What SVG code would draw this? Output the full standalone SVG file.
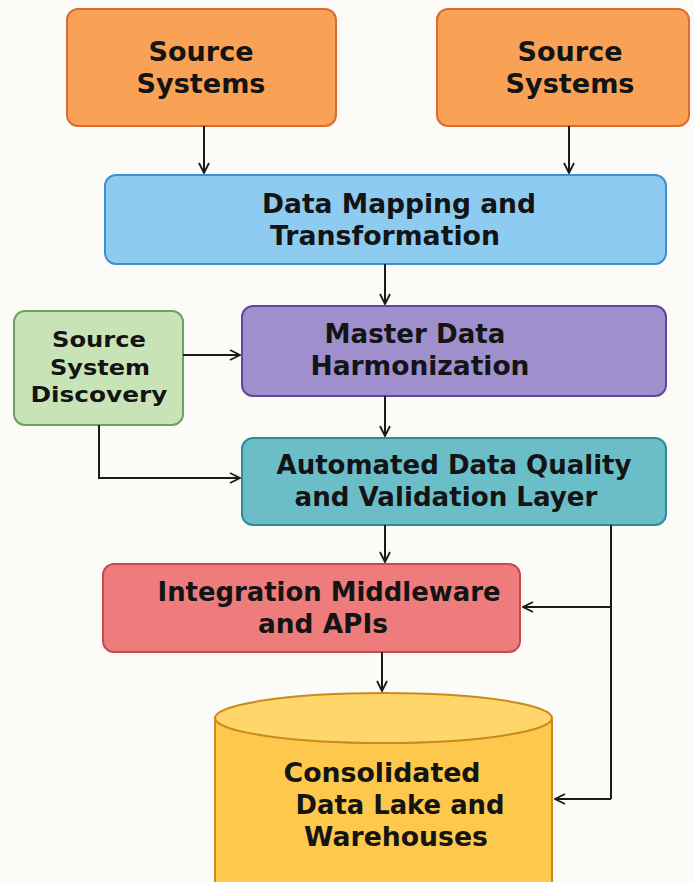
<svg xmlns="http://www.w3.org/2000/svg" width="694" height="882" viewBox="0 0 694 882">
  <defs>
    <marker id="arrow" viewBox="0 0 12 12" refX="11" refY="6" markerWidth="12" markerHeight="12" markerUnits="userSpaceOnUse" orient="auto">
      <path d="M1,1 L11,6 L1,11" fill="none" stroke="#1a1a1a" stroke-width="1.8"/>
    </marker>
  </defs>
  <style>
    .box { stroke-width: 2; }
    .label { font-family: "DejaVu Sans", "Liberation Sans", sans-serif; font-weight: bold; fill: #141414; text-anchor: middle; }
    .big { font-size: 26px; }
    .small { font-size: 22px; }
    .edge { fill: none; stroke: #1a1a1a; stroke-width: 2; marker-end: url(#arrow); }
    .line { fill: none; stroke: #1a1a1a; stroke-width: 2; }
  </style>
  <rect width="694" height="882" fill="#fcfbf8"/>

  <g id="source-systems-a">
    <rect class="box" x="67" y="9" width="269" height="117" rx="11" fill="#f9a256" stroke="#de6a33"/>
    <text class="label big" x="201" y="61" textLength="105" lengthAdjust="spacingAndGlyphs">Source</text>
    <text class="label big" x="201" y="93" textLength="129" lengthAdjust="spacingAndGlyphs">Systems</text>
  </g>

  <g id="source-systems-b">
    <rect class="box" x="437" y="9" width="252" height="117" rx="11" fill="#f9a256" stroke="#de6a33"/>
    <text class="label big" x="570" y="61" textLength="105" lengthAdjust="spacingAndGlyphs">Source</text>
    <text class="label big" x="570" y="93" textLength="129" lengthAdjust="spacingAndGlyphs">Systems</text>
  </g>

  <g id="data-mapping">
    <rect class="box" x="105" y="175" width="561" height="89" rx="11" fill="#8ecbf1" stroke="#3f8fd3"/>
    <text class="label big" x="399" y="213" textLength="274" lengthAdjust="spacingAndGlyphs">Data Mapping and</text>
    <text class="label big" x="385" y="245" textLength="230" lengthAdjust="spacingAndGlyphs">Transformation</text>
  </g>

  <g id="source-discovery">
    <rect class="box" x="14" y="311" width="169" height="114" rx="11" fill="#c8e4b6" stroke="#6aa35c"/>
    <text class="label small" x="99" y="347" textLength="94" lengthAdjust="spacingAndGlyphs">Source</text>
    <text class="label small" x="100" y="375" textLength="100" lengthAdjust="spacingAndGlyphs">System</text>
    <text class="label small" x="99" y="402" textLength="137" lengthAdjust="spacingAndGlyphs">Discovery</text>
  </g>

  <g id="master-data">
    <rect class="box" x="242" y="306" width="424" height="90" rx="11" fill="#a08fcd" stroke="#5b4b9c"/>
    <text class="label big" x="415" y="343" textLength="181" lengthAdjust="spacingAndGlyphs">Master Data</text>
    <text class="label big" x="420" y="375" textLength="219" lengthAdjust="spacingAndGlyphs">Harmonization</text>
  </g>

  <g id="data-quality">
    <rect class="box" x="242" y="438" width="424" height="87" rx="11" fill="#6bbec8" stroke="#2c8c98"/>
    <text class="label big" x="454" y="474" textLength="355" lengthAdjust="spacingAndGlyphs">Automated Data Quality</text>
    <text class="label big" x="446" y="506" textLength="303" lengthAdjust="spacingAndGlyphs">and Validation Layer</text>
  </g>

  <g id="integration">
    <rect class="box" x="103" y="564" width="417" height="88" rx="11" fill="#ee7c7c" stroke="#c84b4b"/>
    <text class="label big" x="329" y="601" textLength="343" lengthAdjust="spacingAndGlyphs">Integration Middleware</text>
    <text class="label big" x="323" y="633" textLength="130" lengthAdjust="spacingAndGlyphs">and APIs</text>
  </g>

  <g id="data-lake">
    <path class="box" d="M215,718 L215,890 L552,890 L552,718" fill="#fdc84b" stroke="#c98a1e"/>
    <ellipse class="box" cx="383.5" cy="718" rx="168.5" ry="25" fill="#fed66a" stroke="#c98a1e"/>
    <text class="label big" x="382" y="782" textLength="197" lengthAdjust="spacingAndGlyphs">Consolidated</text>
    <text class="label big" x="400" y="814" textLength="209" lengthAdjust="spacingAndGlyphs">Data Lake and</text>
    <text class="label big" x="396" y="846" textLength="184" lengthAdjust="spacingAndGlyphs">Warehouses</text>
  </g>

  <g id="connectors">
    <line class="edge" x1="204" y1="126" x2="204" y2="173"/>
    <line class="edge" x1="569" y1="126" x2="569" y2="173"/>
    <line class="edge" x1="385" y1="264" x2="385" y2="304"/>
    <line class="edge" x1="183" y1="355" x2="240" y2="355"/>
    <polyline class="edge" points="99,425 99,478 240,478"/>
    <line class="edge" x1="385" y1="396" x2="385" y2="436"/>
    <line class="edge" x1="385" y1="525" x2="385" y2="562"/>
    <line class="edge" x1="382" y1="652" x2="382" y2="691"/>
    <polyline class="line" points="611,525 611,799"/>
    <line class="edge" x1="611" y1="607" x2="523" y2="607"/>
    <line class="edge" x1="611" y1="799" x2="555" y2="799"/>
  </g>
</svg>
